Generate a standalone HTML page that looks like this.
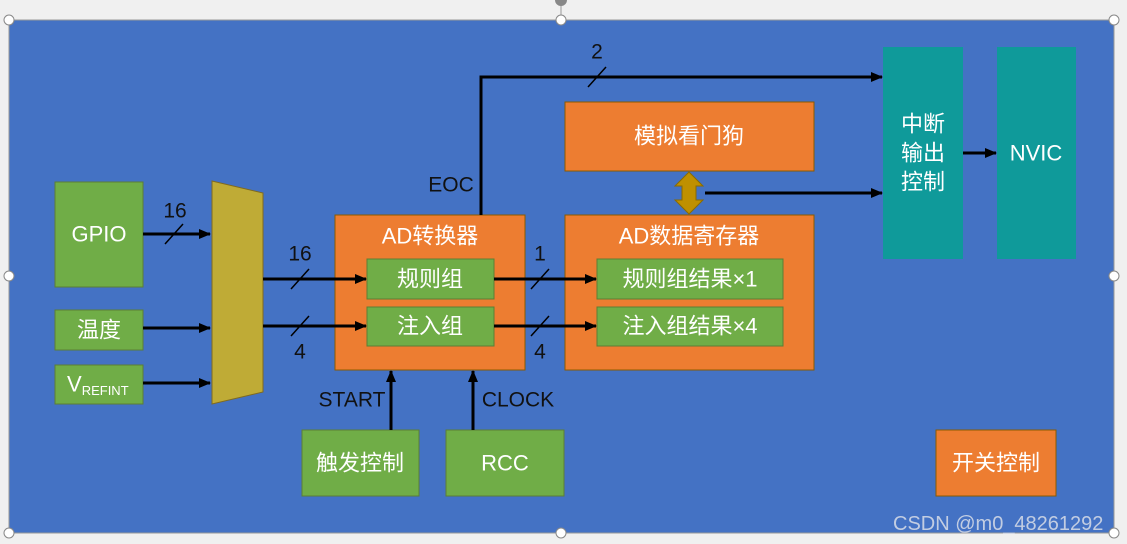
<!DOCTYPE html>
<html><head><meta charset="utf-8"><style>
body{margin:0;background:#f0f0f0;}
svg{display:block;font-family:"Liberation Sans","Noto Sans CJK SC",sans-serif;}
.w{fill:#fff;font-size:22px;text-anchor:middle;dominant-baseline:central}
.b{fill:#111;font-size:21px;text-anchor:middle;dominant-baseline:central}
</style></head><body>
<svg width="1127" height="544" viewBox="0 0 1127 544">
<defs><marker id="a" markerWidth="12" markerHeight="10" refX="11" refY="5" orient="auto" markerUnits="userSpaceOnUse"><path d="M0,0 L12,5 L0,10z" fill="#000"/></marker></defs>
<rect x="0" y="0" width="1127" height="544" fill="#f0f0f0"/>
<line x1="561" y1="0" x2="561" y2="20" stroke="#999"/>
<circle cx="561" cy="0" r="6" fill="#888"/>
<rect x="9" y="20" width="1105" height="513" fill="#4472c4" stroke="#999"/>
<g fill="#fff" stroke="#888">
<circle cx="9" cy="20" r="5"/><circle cx="561" cy="20" r="5"/><circle cx="1114" cy="20" r="5"/>
<circle cx="9" cy="276" r="5"/><circle cx="1114" cy="276" r="5"/>
<circle cx="9" cy="533" r="5"/><circle cx="561" cy="533" r="5"/><circle cx="1114" cy="533" r="5"/>
</g>
<g stroke="#5b7e35" fill="#70ad47">
<rect x="55" y="182" width="88" height="105"/>
<rect x="55" y="310" width="88" height="40"/>
<rect x="55" y="365" width="88" height="39"/>
<rect x="302" y="430" width="117" height="66"/>
<rect x="446" y="430" width="118" height="66"/>
</g>
<polygon points="212,181 263,193 263,392 212,404" fill="#bfab36" stroke="#7f6a20"/>
<g fill="#ed7d31" stroke="#8a5a00">
<rect x="335" y="215" width="190" height="155"/>
<rect x="565" y="215" width="249" height="155"/>
<rect x="565" y="102" width="249" height="69"/>
<rect x="936" y="430" width="120" height="66"/>
</g>
<g stroke="#5b7e35" fill="#70ad47">
<rect x="367" y="259" width="127" height="40"/>
<rect x="367" y="307" width="127" height="39"/>
<rect x="597" y="259" width="186" height="40"/>
<rect x="597" y="307" width="186" height="39"/>
</g>
<rect x="883" y="47" width="80" height="212" fill="#0f9a9a"/>
<rect x="997" y="47" width="79" height="212" fill="#0f9a9a"/>
<g stroke="#000" stroke-width="3" fill="none">
<line x1="143" y1="234" x2="210" y2="234" marker-end="url(#a)"/>
<line x1="143" y1="328" x2="210" y2="328" marker-end="url(#a)"/>
<line x1="143" y1="383" x2="210" y2="383" marker-end="url(#a)"/>
<line x1="263" y1="279" x2="366" y2="279" marker-end="url(#a)"/>
<line x1="263" y1="326" x2="366" y2="326" marker-end="url(#a)"/>
<line x1="494" y1="279" x2="596" y2="279" marker-end="url(#a)"/>
<line x1="494" y1="326" x2="596" y2="326" marker-end="url(#a)"/>
<polyline points="481,215 481,77 882,77" marker-end="url(#a)"/>
<line x1="705" y1="193" x2="882" y2="193" marker-end="url(#a)"/>
<line x1="963" y1="153" x2="996" y2="153" marker-end="url(#a)"/>
<line x1="391" y1="430" x2="391" y2="371" marker-end="url(#a)"/>
<line x1="473" y1="430" x2="473" y2="371" marker-end="url(#a)"/>
</g>
<g stroke="#000" stroke-width="1.5">
<line x1="165" y1="244" x2="183" y2="224"/>
<line x1="291" y1="289" x2="309" y2="269"/>
<line x1="291" y1="336" x2="309" y2="316"/>
<line x1="531" y1="289" x2="549" y2="269"/>
<line x1="531" y1="336" x2="549" y2="316"/>
<line x1="588" y1="87" x2="606" y2="67"/>
</g>
<polygon points="689,172 703,186 696,186 696,200 703,200 689,214 675,200 682,200 682,186 675,186" fill="#bf9000" stroke="#8a6a00"/>
<g class="b">
<text x="175" y="211">16</text><text x="300" y="254">16</text><text x="300" y="352">4</text>
<text x="540" y="254">1</text><text x="540" y="352">4</text><text x="597" y="52">2</text>
<text x="451" y="185">EOC</text><text x="352" y="400">START</text><text x="518" y="400">CLOCK</text>
</g>
<g class="w">
<text x="99" y="234">GPIO</text><text x="99" y="330">温度</text>
<text x="430" y="236">AD转换器</text><text x="430" y="279">规则组</text><text x="430" y="326">注入组</text>
<text x="689" y="236">AD数据寄存器</text><text x="690" y="279">规则组结果×1</text><text x="690" y="326">注入组结果×4</text>
<text x="689" y="136">模拟看门狗</text>
<text x="923" y="124">中断</text><text x="923" y="153">输出</text><text x="923" y="182">控制</text>
<text x="1036" y="153">NVIC</text>
<text x="360" y="463">触发控制</text><text x="505" y="463">RCC</text><text x="996" y="463">开关控制</text>
</g>
<text x="67" y="384" fill="#fff" font-size="22" dominant-baseline="central">V<tspan font-size="13" dy="6">REFINT</tspan></text>
<text x="893" y="530" fill="#d8dde8" font-size="20" opacity="0.85">CSDN @m0_48261292</text>
</svg>
</body></html>
